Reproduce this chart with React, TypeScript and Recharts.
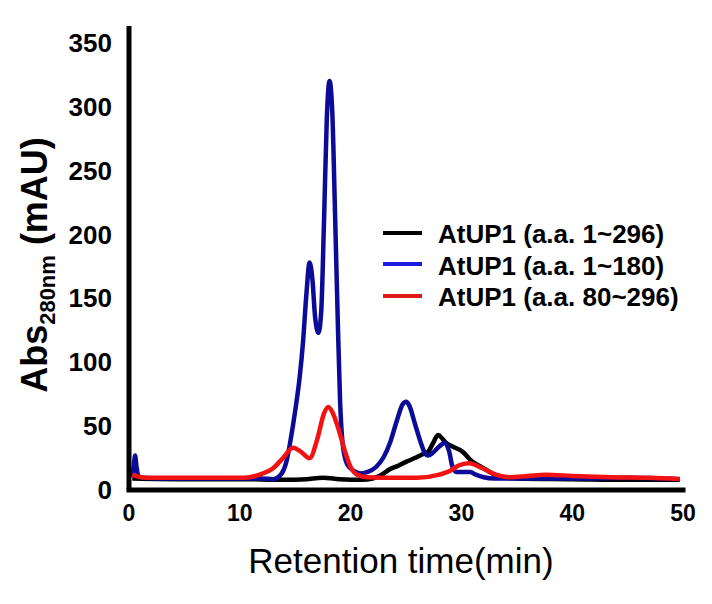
import { Label, Legend, Line, LineChart, XAxis, YAxis } from "recharts";

const FONT = '"Liberation Sans", Arial, sans-serif';

// AtUP1 (a.a. 1~296) - black trace
const blackTime = [0.3, 5, 10, 14, 16, 17.5, 19, 21, 22.0, 22.8, 23.5, 24.3, 25.0, 25.8, 26.5, 27.0, 27.4, 27.9, 28.3, 28.6, 29.2, 30.1, 31.0, 31.6, 32.2, 33.0, 33.7, 35, 40, 45, 49.7];
const blackAbs = [9, 8.5, 8.5, 8, 8.5, 9.5, 8.5, 8, 9, 12, 16, 19, 22, 25, 28, 30, 36, 43, 40, 37, 34, 30, 22, 19, 16, 12, 10, 9, 8.5, 8, 8];

// AtUP1 (a.a. 1~180) - blue trace
const blueTime = [0.3, 0.45, 0.55, 0.68, 0.85, 1.2, 3, 6, 9, 12, 13.0, 13.6, 14.2, 14.6, 15.0, 15.4, 15.7, 16.0, 16.3, 16.55, 16.8, 17.1, 17.35, 17.6, 17.85, 18.1, 18.35, 18.6, 18.85, 19.05, 19.3, 19.7, 20.3, 21.0, 21.5, 22.3, 23.0, 23.6, 24.2, 24.7, 25.0, 25.3, 25.8, 26.3, 26.7, 27.0, 27.4, 28.0, 28.5, 28.9, 29.2, 29.6, 30.2, 30.8, 31.3, 32.0, 33.0, 36, 40, 45, 49.7];
const blueAbs = [10, 20, 27, 18, 11, 9.5, 9, 9, 9, 9, 8.5, 11, 22, 40, 62, 88, 115, 152, 178, 165, 135, 123, 140, 210, 290, 320, 295, 215, 130, 70, 35, 20, 15, 13, 14, 18, 26, 38, 55, 67, 69, 66, 52, 38, 29, 27, 29, 34, 37, 30, 18, 14, 14, 14, 12, 10, 9, 9, 9, 9.5, 8.5];

// AtUP1 (a.a. 80~296) - red trace
const redTime = [0.3, 0.6, 1.5, 5, 10, 10.7, 11.8, 13.0, 13.9, 14.8, 15.5, 16.3, 17.0, 17.6, 18.0, 18.4, 19.0, 19.5, 20.0, 20.6, 21.5, 24, 26, 28.0, 29.0, 29.7, 30.7, 31.9, 33.1, 34.3, 36, 37.6, 40, 43.5, 47, 49.7];
const redAbs = [12, 11, 9.5, 9.5, 9.5, 9.8, 12, 17, 25, 33, 30, 25, 40, 60, 65, 60, 45, 30, 18, 12, 10, 9.5, 9.5, 12, 15, 19, 21, 17, 12, 10, 11, 12, 11, 10, 9.5, 8.6];

const xTicks = [0, 10, 20, 30, 40, 50];
const yTicks = [0, 50, 100, 150, 200, 250, 300, 350];

const toPoints = (times: number[], values: number[]) =>
  times.map((t, i) => ({ t, abs: values[i] }));

const series = [
  { name: "AtUP1 (a.a. 1~296)", color: "#000000", legendColor: "#000000", data: toPoints(blackTime, blackAbs) },
  { name: "AtUP1 (a.a. 1~180)", color: "#0b0b98", legendColor: "#1a1ae0", data: toPoints(blueTime, blueAbs) },
  { name: "AtUP1 (a.a. 80~296)", color: "#f21212", legendColor: "#e01818", data: toPoints(redTime, redAbs) },
];

const YTitle = (props: any) => {
  const vb = props.viewBox || { y: 26, height: 464 };
  const cy = vb.y + vb.height / 2 + 7;
  return (
    <text
      transform={`translate(47, ${cy}) rotate(-90)`}
      textAnchor="middle"
      fontFamily={FONT}
      fontWeight="bold"
      fontSize={36}
      fill="#000"
    >
      Abs
      <tspan fontSize={22} dy={8}>280nm</tspan>
      <tspan fontSize={36} dy={-8}> (mAU)</tspan>
    </text>
  );
};

const XTitle = (props: any) => {
  const vb = props.viewBox || { x: 129, y: 490, width: 554 };
  return (
    <text x={vb.x + vb.width / 2 - 5} y={vb.y + 83} textAnchor="middle" fontFamily={FONT} fontSize={35} fill="#000">
      Retention time(min)
    </text>
  );
};

// legend keeps the series order (recharts sorts its payload by name)
const LegendBox = () => (
  <div style={{ fontFamily: FONT, fontWeight: "bold", fontSize: 26, color: "#000" }}>
    {series.map((s) => (
      <div key={s.name} style={{ display: "flex", alignItems: "center", height: 31.5, whiteSpace: "nowrap" }}>
        <span style={{ display: "inline-block", width: 39, height: 4, background: s.legendColor, position: "relative", top: -2 }} />
        <span style={{ marginLeft: 16 }}>{s.name}</span>
      </div>
    ))}
  </div>
);

export default function App() {
  return (
    <div style={{ width: 712, height: 604, background: "#fff" }}>
      <style>{"body{margin:0;background:#fff}"}</style>
      <LineChart width={712} height={604} margin={{ top: 26, right: 29, bottom: 0, left: 0 }}>
        <XAxis
          type="number"
          dataKey="t"
          domain={[0, 50]}
          ticks={xTicks}
          interval={0}
          allowDataOverflow
          height={114}
          tickLine={false}
          tickSize={0}
          tickMargin={15}
          axisLine={{ stroke: "#000", strokeWidth: 5, strokeLinecap: "square" }}
          tick={{ fill: "#000", fontSize: 23, fontWeight: "bold", fontFamily: FONT }}
        >
          <Label content={<XTitle />} />
        </XAxis>
        <YAxis
          type="number"
          domain={[0, 363]}
          ticks={yTicks}
          interval={0}
          allowDataOverflow
          width={129}
          tickLine={false}
          tickSize={0}
          tickMargin={17}
          axisLine={{ stroke: "#000", strokeWidth: 5 }}
          tick={{ fill: "#000", fontSize: 26, fontWeight: "bold", fontFamily: FONT }}
        >
          <Label content={<YTitle />} />
        </YAxis>
        <Legend
          layout="vertical"
          align="center"
          verticalAlign="middle"
          wrapperStyle={{ left: 383, top: 219, width: 330 }}
          content={<LegendBox />}
        />
        {series.map((s) => (
          <Line
            key={s.name}
            name={s.name}
            data={s.data}
            dataKey="abs"
            type="monotone"
            stroke={s.color}
            strokeWidth={4.5}
            dot={false}
            activeDot={false}
            isAnimationActive={false}
          />
        ))}
      </LineChart>
    </div>
  );
}
